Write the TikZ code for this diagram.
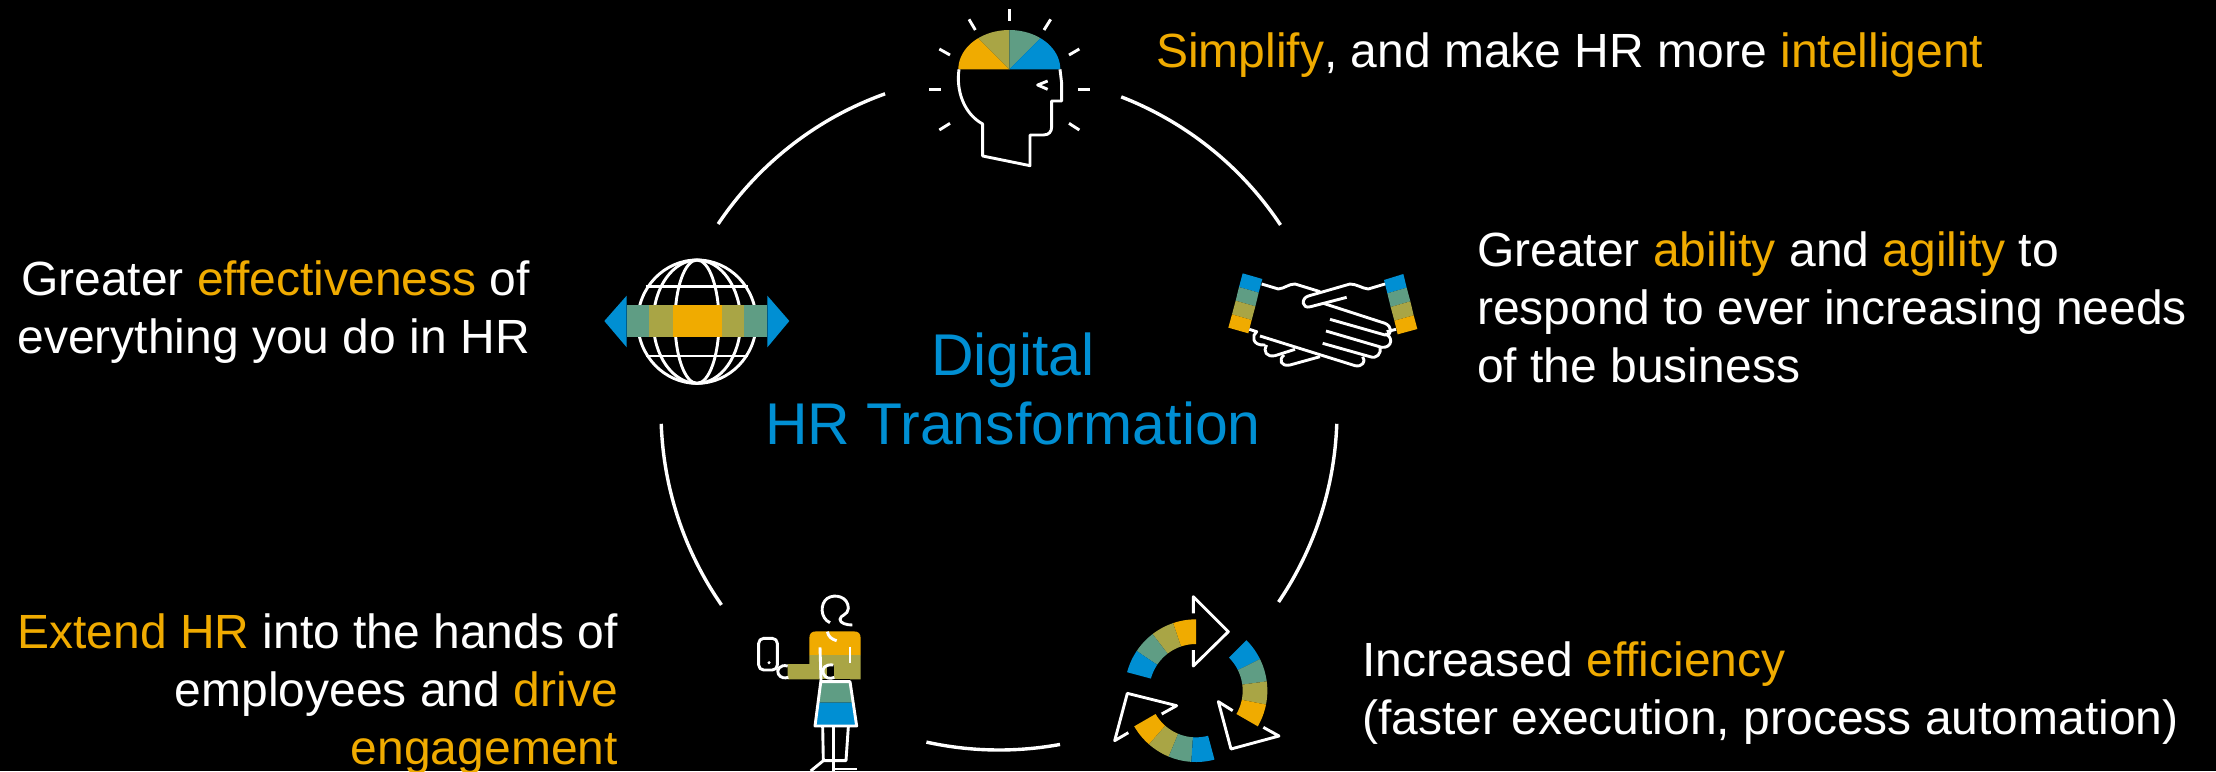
\documentclass[tikz,border=0pt]{standalone}
\usepackage{fontspec}
\setmainfont{Liberation Sans}
\definecolor{sapor}{HTML}{F0AB00}
\definecolor{sapol}{HTML}{A9A545}
\definecolor{sapgr}{HTML}{5F9D84}
\definecolor{sapbl}{HTML}{008FD3}
\newcommand{\RingSeg}[7]{\fill[#7] plot[domain=#5:#6,samples=14] ({#1+#4*cos(\x)},{#2-#4*sin(\x)}) -- plot[domain=#6:#5,samples=14] ({#1+#3*cos(\x)},{#2-#3*sin(\x)}) -- cycle;}
\newcommand{\RingArc}[2]{\draw[ringline] plot[domain=#1:#2,samples=40] ({999+338*cos(\x)},{412-338*sin(\x)});}
\newcommand{\Or}[1]{\textcolor{sapor}{#1}}
\tikzset{
 ringline/.style={white,line width=3.4pt},
 ico/.style={white,line width=2.9pt,line join=round,line cap=butt},
 lbl/.style={white,inner sep=0pt,font=\fontsize{48}{58}\selectfont},
 lblb/.style={inner sep=0pt,text=sapbl,align=center,font=\fontsize{58.9}{69}\selectfont},
 zoomed/.style={x=0.33333pt,y=-0.33333pt}
}
\begin{document}
\begin{tikzpicture}[x=1pt,y=-1pt]
\useasboundingbox (0,0) rectangle (2216,771);
\fill[black] (0,0) rectangle (2216,771);
\clip (0,0) rectangle (2216,771);
\RingArc{109.7}{146.2}
\RingArc{68.8}{33.6}
\RingArc{-2}{-34.2}
\RingArc{-79.6}{-102.4}
\RingArc{214.8}{182}
% head
\begin{scope}[shift={(900,0)},zoomed]
\begin{scope}
\clip plot[domain=0:180,samples=40] ({328+153*cos(\x)},{208-118*sin(\x)}) -- cycle;
\fill[sapor] (328,208) -- (100,208) -- (100,-20) -- cycle;
\fill[sapol] (328,208) -- (100,-20) -- (328,-20) -- cycle;
\fill[sapgr] (328,208) -- (328,-20) -- (556,-20) -- cycle;
\fill[sapbl] (328,208) -- (556,-20) -- (556,208) -- cycle;
\end{scope}
\draw[ico] (177,208) .. controls (168,270) and (190,340) .. (248,372) -- (248,468) -- (390,497) -- (390,405) -- (430,405) .. controls (447,405) and (455,395) .. (455,380) -- (455,303) -- (485,303) -- (485,250) -- (480,208);
\draw[ico] (443,243) -- (413,255) -- (443,268);
\foreach \a/\b/\c/\d in {328/27/328/62,207/58/226/90,452/58/432/90,118/147/150/165,538/147/507/165,87/268/122/268,535/268/570/268,118/390/150/370,538/390/507/370}
  \draw[ico] (\a,\b) -- (\c,\d);
\end{scope}
% globe
\begin{scope}[shift={(590,240)},zoomed]
\draw[ico] (321,245) circle[x radius=178,y radius=185];
\draw[ico] (321,245) ellipse[x radius=66,y radius=185];
\draw[ico] (321,245) ellipse[x radius=131,y radius=185];
\draw[ico] (167,140) -- (475,140);
\draw[ico] (167,348) -- (475,348);
\fill[sapgr] (110,195) rectangle (178,292);
\fill[sapol] (178,195) rectangle (248,292);
\fill[sapor] (248,195) rectangle (395,292);
\fill[sapol] (395,195) rectangle (463,292);
\fill[sapgr] (463,195) rectangle (532,292);
\fill[sapbl] (110,167) -- (43,243) -- (110,322) -- cycle;
\fill[sapbl] (532,167) -- (598,243) -- (532,322) -- cycle;
\end{scope}
% handshake
\begin{scope}[shift={(1210,260)},zoomed]
\fill[sapbl] (98,40) -- (157,57) -- (146,98) -- (87,81) -- cycle;
\fill[sapgr] (87,81) -- (146,98) -- (136,139) -- (77,122) -- cycle;
\fill[sapol] (77,122) -- (136,139) -- (125,180) -- (66,163) -- cycle;
\fill[sapor] (66,163) -- (125,180) -- (115,220) -- (55,203) -- cycle;
\fill[sapbl] (522,60) -- (580,42) -- (590,83) -- (532,100) -- cycle;
\fill[sapgr] (532,100) -- (590,83) -- (601,124) -- (542,141) -- cycle;
\fill[sapol] (542,141) -- (601,124) -- (611,166) -- (553,182) -- cycle;
\fill[sapor] (553,182) -- (611,166) -- (622,207) -- (563,223) -- cycle;
\draw[ico] (155,72) -- (205,87) .. controls (225,85) and (235,72) .. (255,72) -- (330,95);
\draw[ico] (525,72) -- (475,87) .. controls (455,85) and (440,72) .. (420,72) -- (295,108) .. controls (272,115) and (275,148) .. (302,140) -- (410,112);
\draw[ico] (340,130) -- (525,190) .. controls (545,198) and (550,225) .. (525,225) -- (360,178);
\draw[ico] (525,222) .. controls (550,228) and (548,265) .. (515,262) -- (348,213);
\draw[ico] (510,262) .. controls (515,280) and (500,298) .. (480,290) -- (338,250);
\draw[ico] (458,290) .. controls (470,305) and (455,322) .. (435,317) -- (150,228);
\draw[ico] (118,208) -- (140,215) .. controls (125,225) and (125,258) .. (165,255);
\draw[ico] (170,255) .. controls (158,275) and (170,292) .. (195,287) -- (255,268);
\draw[ico] (222,285) .. controls (205,300) and (212,320) .. (240,315) -- (330,290);
\draw[ico] (530,215) -- (558,208);
\end{scope}
% recycle
\begin{scope}[shift={(1110,590)},zoomed]
\RingSeg{258}{302}{140}{214}{90}{108.75}{sapor}
\RingSeg{258}{302}{140}{214}{108.75}{127.5}{sapol}
\RingSeg{258}{302}{140}{214}{127.5}{146.25}{sapgr}
\RingSeg{258}{302}{140}{214}{146.25}{165}{sapbl}
\RingSeg{258}{302}{140}{214}{26.25}{45}{sapbl}
\RingSeg{258}{302}{140}{214}{7.5}{26.25}{sapgr}
\RingSeg{258}{302}{140}{214}{-11.25}{7.5}{sapol}
\RingSeg{258}{302}{140}{214}{-30}{-11.25}{sapor}
\RingSeg{258}{302}{140}{214}{210}{228.75}{sapor}
\RingSeg{258}{302}{140}{214}{228.75}{247.5}{sapol}
\RingSeg{258}{302}{140}{214}{247.5}{266.25}{sapgr}
\RingSeg{258}{302}{140}{214}{266.25}{285}{sapbl}
\draw[ico] (250,70) -- (250,20) -- (355,125) -- (250,228) -- (250,180);
\draw[ico] (368,362) -- (325,335) -- (363,477) -- (507,438) -- (460,412);
\draw[ico] (155,372) -- (200,347) -- (52,310) -- (14,452) -- (55,428);
\end{scope}
% person
\begin{scope}[shift={(740,590)},zoomed]
\fill[sapor] (208,195) -- (208,145) .. controls (208,130) and (215,124) .. (230,124) -- (340,124) .. controls (355,124) and (362,130) .. (362,145) -- (362,195) -- cycle;
\fill[sapol] (143,222) -- (208,222) -- (208,195) -- (362,195) -- (362,268) -- (143,268) -- cycle;
\fill[black] (240,268) -- (240,275) -- (330,275) -- (330,268) -- cycle;
\fill[sapgr] (245,275) -- (330,275) -- (338,338) -- (235,338) -- cycle;
\fill[sapbl] (235,338) -- (338,338) -- (350,408) -- (225,408) -- cycle;
\fill[black] (283,225) -- (283,260) -- (262,260) -- (262,225) -- cycle;
\draw[ico] (240,172) -- (243,270) -- (225,408) -- (350,408) -- (330,275) -- (245,275);
\draw[ico] (330,170) -- (330,218);
\draw[ico] (262,125) .. controls (265,140) and (275,148) .. (290,152);
\draw[ico] (280,225) .. controls (255,222) and (245,235) .. (250,250) .. controls (255,265) and (270,268) .. (283,262);
\draw[ico] (143,228) .. controls (120,222) and (108,240) .. (115,252) .. controls (122,265) and (135,265) .. (145,262);
\draw[ico,rounded corners=5pt] (56,145) rectangle (112,240);
\fill[white] (87,218) circle[radius=5];
\draw[ico] (270,98) .. controls (240,85) and (240,40) .. (262,25) .. controls (285,10) and (325,20) .. (325,55) .. controls (325,75) and (300,75) .. (300,88) .. controls (300,100) and (320,105) .. (337,105);
\draw[ico] (248,410) -- (250,512) -- (212,543);
\draw[ico] (250,512) -- (318,512) -- (325,410);
\draw[ico] (281,410) -- (281,543);
\draw[ico] (282,537) -- (352,537);
\end{scope}
% texts
\node[lbl,anchor=north west] (t1) at (1156,33) {\Or{Simplify}, and make HR more \Or{intelligent}};
\node[lbl,anchor=north west,align=left] (t2) at (1477,232) {Greater \Or{ability} and \Or{agility} to\\respond to ever increasing needs\\of the business};
\node[lbl,anchor=north west,align=left] (t3) at (1362,642) {Increased \Or{efficiency}\\(faster execution, process automation)};
\node[lbl,anchor=north east,align=right] (t4) at (618,614) {\Or{Extend HR} into the hands of\\employees and \Or{drive}\\\Or{engagement}};
\node[lbl,anchor=north east,align=right] (t5) at (530,261) {Greater \Or{effectiveness} of\\everything you do in HR};
\node[lblb,anchor=center] (t6) at (1013,389) {Digital\\HR Transformation};
\end{tikzpicture}
\end{document}
